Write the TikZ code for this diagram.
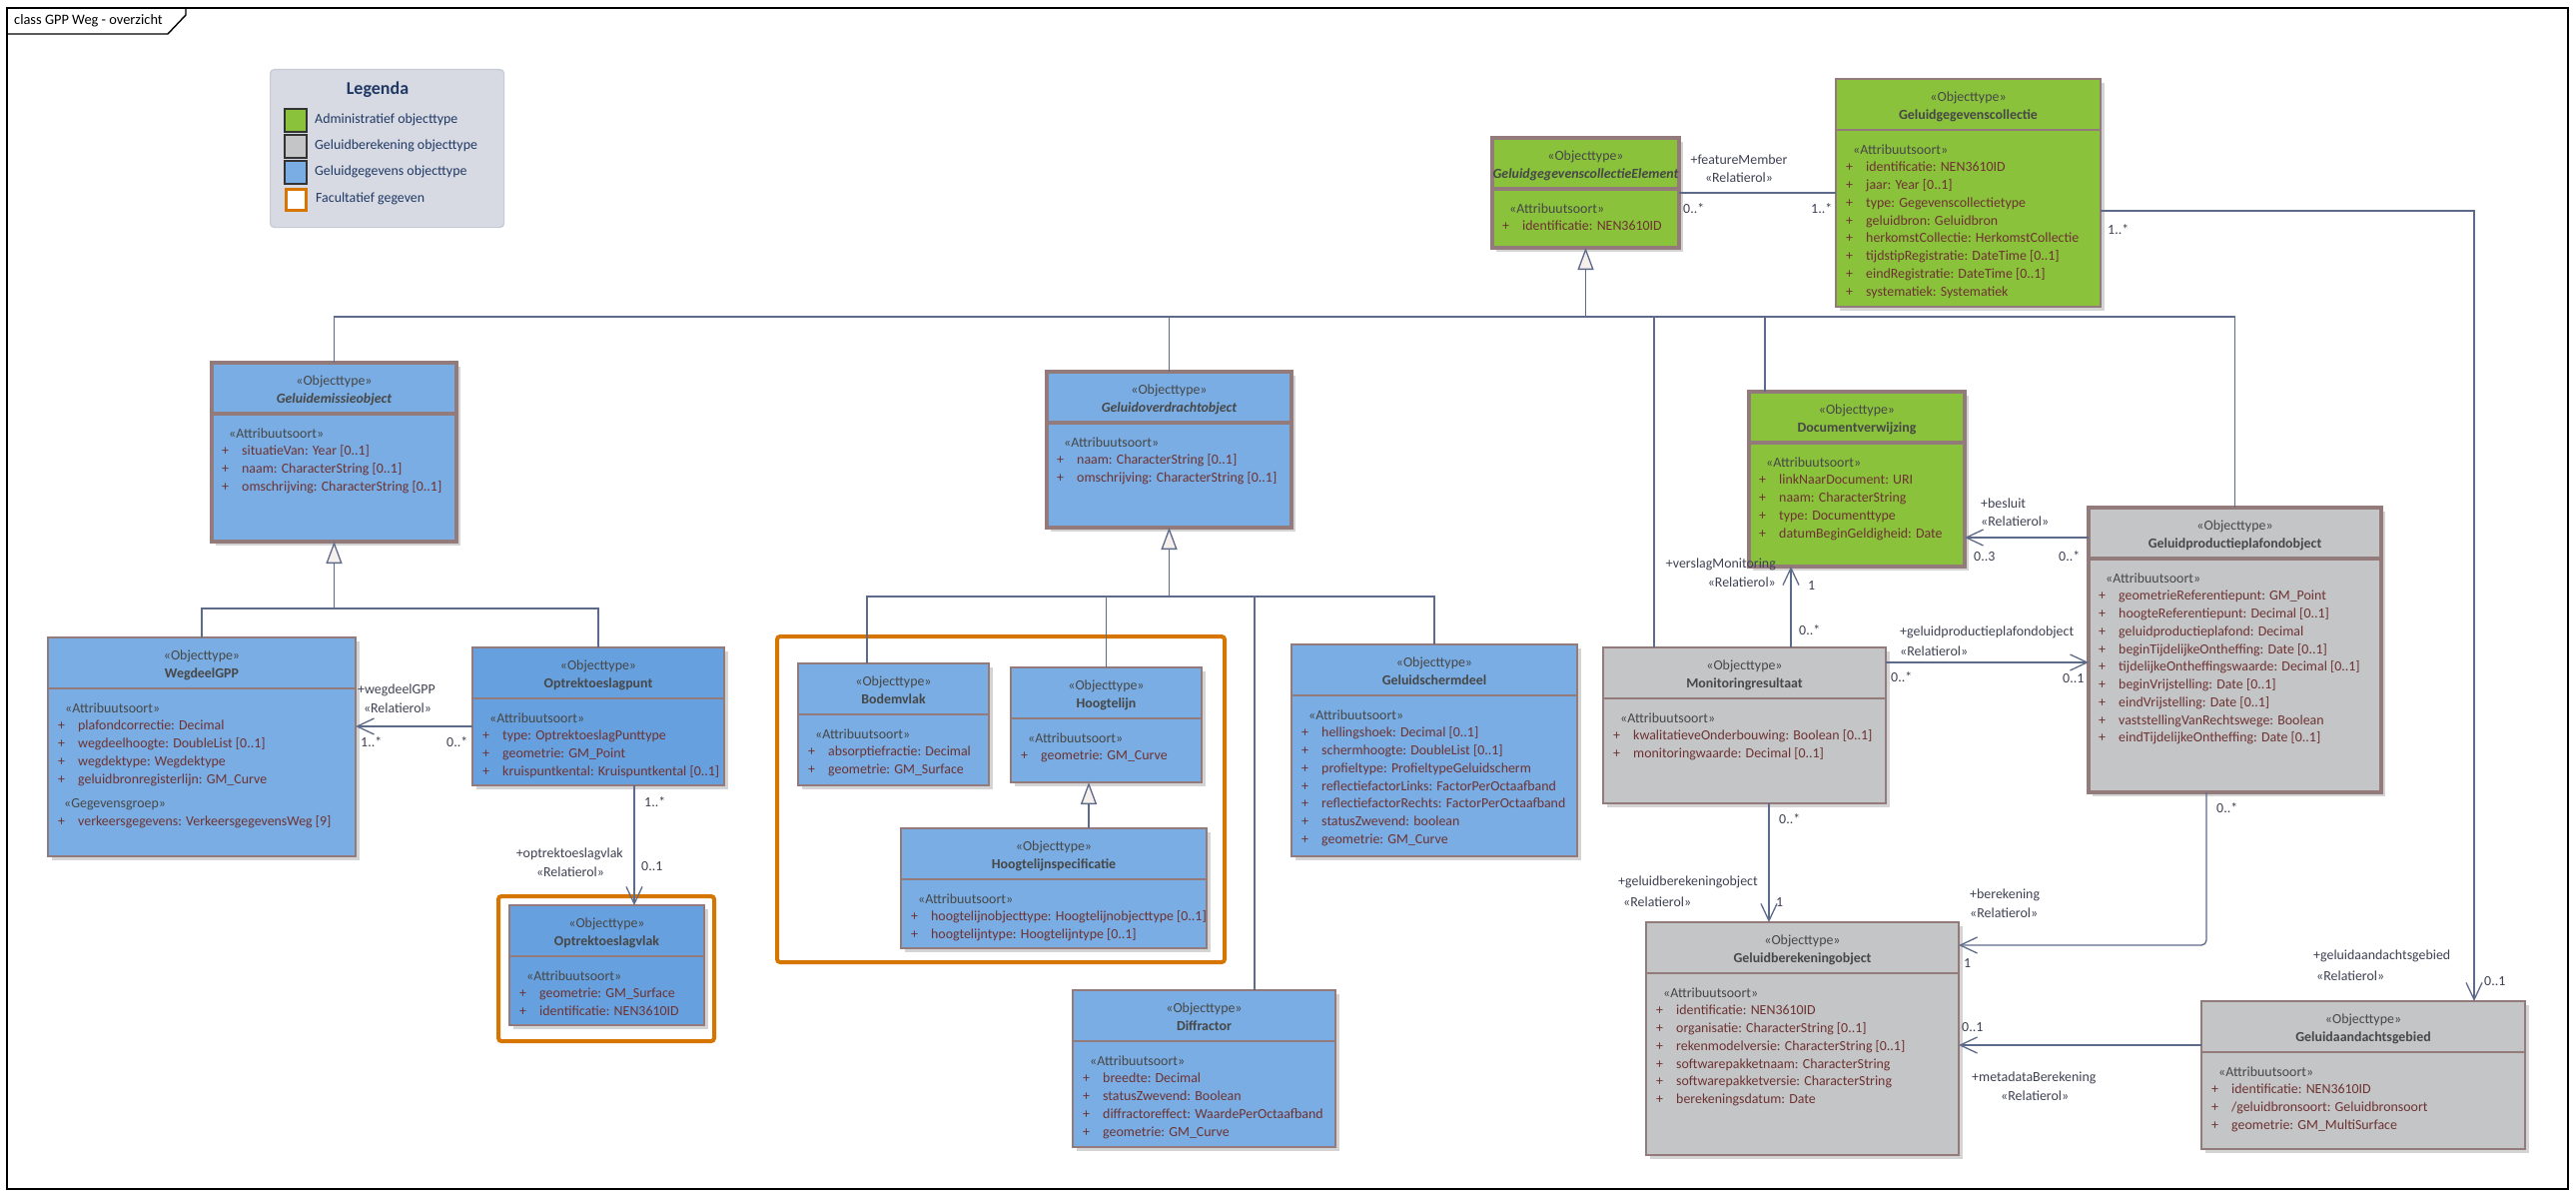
\documentclass[tikz,border=0pt]{standalone}
\usepackage{fontspec}
\setmainfont{Carlito}
\usetikzlibrary{arrows.meta,calc}
\definecolor{green1}{HTML}{8AC23C}
\definecolor{gray1}{HTML}{C4C5C7}
\definecolor{blue1}{HTML}{79ADE3}
\definecolor{blue2}{HTML}{66A0DE}
\definecolor{bordC}{HTML}{937B7B}
\definecolor{lineC}{HTML}{5E6A8A}
\definecolor{triF}{HTML}{F6EFEC}
\definecolor{shadowC}{HTML}{D4D4D4}
\definecolor{stC}{HTML}{474747}
\definecolor{attrC}{HTML}{6E3232}
\definecolor{labC}{HTML}{3F4152}
\definecolor{orangeC}{HTML}{D67500}
\definecolor{legBg}{HTML}{D7DAE2}
\definecolor{legBd}{HTML}{C5CAD6}
\definecolor{navyC}{HTML}{1F3864}
\newcommand\umlfont{\fontsize{13.9}{17.75}\selectfont}
\newcommand\umlbox[8]{%
  \fill[shadowC] ({#2+4},{#3+4}) rectangle ++(#4,#5);
  \node[cls,#6,minimum width=#4pt,minimum height=#5pt,anchor=north west] (#1) at (#2,#3) {};
  \draw[cls,#6,fill=none] (#2,{#3+51}) -- ++(#4,0);
  \node[stereo,anchor=base] (#1-st) at ({#2+#4/2},{#3+22}) {«Objecttype»};
  \node[cname,anchor=base] (#1-nm) at ({#2+#4/2},{#3+40}) {#7};
  \node[astereo,anchor=base west] (#1-as) at ({#2+17},{#3+75}) {«Attribuutsoort»};
  \foreach \t [count=\i] in {#8} {
    \node[attr,anchor=base west] (#1-a\i) at ({#2+10},{#3+75+17.75*\i}) {\makebox[20pt][l]{+}\t};
  }%
}
\begin{document}
\begin{tikzpicture}[x=1pt,y=-1pt,
  cls/.style={draw=bordC,line width=1.5pt,inner sep=0pt,outer sep=0pt},
  heavy/.style={line width=3.2pt},
  stereo/.style={font=\umlfont,text=stC,inner sep=0pt},
  cname/.style={font=\umlfont\bfseries,text=stC,inner sep=0pt},
  astereo/.style={font=\umlfont,text=stC,inner sep=0pt},
  attr/.style={font=\umlfont,text=attrC,inner sep=0pt},
  lbl/.style={font=\umlfont,text=labC,inner sep=0pt},
  conn/.style={draw=lineC,line width=1.3pt},
  gen/.style={conn,-{Triangle[length=22pt,width=16pt,fill=triF]}},
  assoc/.style={conn,-{Straight Barb[length=17pt,width=16pt]}},
  obox/.style={draw=orangeC,line width=4pt,rounded corners=3pt,inner sep=0pt,outer sep=0pt},
  swatch/.style={draw=black!80,line width=1.5pt,minimum width=22pt,minimum height=23pt,inner sep=0pt},
  legtxt/.style={font=\umlfont,text=navyC,inner sep=0pt,anchor=west}
]
\useasboundingbox (0,0) rectangle (2579,1199);
\fill[white] (0,0) rectangle (2579,1199);
% frame
\draw[black,line width=1.4pt] (7,8) rectangle (2571,1190);
\draw[black,line width=1.4pt] (7,34) -- (168,34) -- (186,15) -- (186,8);
\node[font=\fontsize{14.4}{17}\selectfont,anchor=west,inner sep=0pt] (title) at (14,21) {class GPP Weg - overzicht};
% legend
\node[draw=legBd,fill=legBg,line width=1.2pt,rounded corners=4pt,minimum width=234pt,minimum height=158pt,anchor=north west,inner sep=0pt] (legend) at (270,69) {};
\node[font=\fontsize{18}{20}\selectfont\bfseries,text=navyC,inner sep=0pt] (legt) at (378,90) {Legenda};
\node[swatch,fill=green1] (sw1) at (296,120.5) {};
\node[swatch,fill=gray1] (sw2) at (296,146.5) {};
\node[swatch,fill=blue1] (sw3) at (296,172.5) {};
\node[swatch,draw=orangeC,line width=3pt,fill=white,minimum width=20pt,minimum height=21pt] (sw4) at (296,200) {};
\node[legtxt] (lg1) at (315,120) {Administratief objecttype};
\node[legtxt] (lg2) at (315,146) {Geluidberekening objecttype};
\node[legtxt] (lg3) at (315,172) {Geluidgegevens objecttype};
\node[legtxt] (lg4) at (316,199) {Facultatief gegeven};
% optional-data frames
\node[obox,minimum width=448pt,minimum height=326pt,anchor=north west] (fac1) at (778,637) {};
\node[obox,minimum width=216pt,minimum height=145pt,anchor=north west] (fac2) at (499,897) {};
% classes
\umlbox{gce}{1494}{138}{187}{110}{fill=green1,heavy}{\itshape GeluidgegevenscollectieElement}{identificatie: NEN3610ID}
\umlbox{ggc}{1838}{79}{265}{228}{fill=green1}{Geluidgegevenscollectie}{identificatie: NEN3610ID, jaar: Year [0..1], type: Gegevenscollectietype, geluidbron: Geluidbron, herkomstCollectie: HerkomstCollectie, tijdstipRegistratie: DateTime [0..1], eindRegistratie: DateTime [0..1], systematiek: Systematiek}
\umlbox{geo}{212}{363}{245}{179}{fill=blue1,heavy}{\itshape Geluidemissieobject}{situatieVan: Year [0..1], naam: CharacterString [0..1], omschrijving: CharacterString [0..1]}
\umlbox{goo}{1048}{372}{245}{156}{fill=blue1,heavy}{\itshape Geluidoverdrachtobject}{naam: CharacterString [0..1], omschrijving: CharacterString [0..1]}
\umlbox{weg}{48}{638}{308}{219}{fill=blue1}{WegdeelGPP}{plafondcorrectie: Decimal, wegdeelhoogte: DoubleList [0..1], wegdektype: Wegdektype, geluidbronregisterlijn: GM\_Curve}
\node[astereo,anchor=base west] (weg-gg) at (64,808) {«Gegevensgroep»};
\node[attr,anchor=base west] (weg-vg) at (58,826) {\makebox[20pt][l]{+}verkeersgegevens: VerkeersgegevensWeg [9]};
\umlbox{otp}{473}{648}{252}{138}{fill=blue2}{Optrektoeslagpunt}{type: OptrektoeslagPunttype, geometrie: GM\_Point, kruispuntkental: Kruispuntkental [0..1]}
\umlbox{otv}{510}{906}{195}{120}{fill=blue2}{Optrektoeslagvlak}{geometrie: GM\_Surface, identificatie: NEN3610ID}
\umlbox{bv}{799}{664}{191}{122}{fill=blue1}{Bodemvlak}{absorptiefractie: Decimal, geometrie: GM\_Surface}
\umlbox{hl}{1012}{668}{191}{115}{fill=blue1}{Hoogtelijn}{geometrie: GM\_Curve}
\umlbox{hls}{902}{829}{306}{120}{fill=blue1}{Hoogtelijnspecificatie}{hoogtelijnobjecttype: Hoogtelijnobjecttype [0..1], hoogtelijntype: Hoogtelijntype [0..1]}
\umlbox{df}{1074}{991}{263}{157}{fill=blue1}{Diffractor}{breedte: Decimal, statusZwevend: Boolean, diffractoreffect: WaardePerOctaafband, geometrie: GM\_Curve}
\umlbox{gsd}{1293}{645}{286}{212}{fill=blue1}{Geluidschermdeel}{hellingshoek: Decimal [0..1], schermhoogte: DoubleList [0..1], profieltype: ProfieltypeGeluidscherm, reflectiefactorLinks: FactorPerOctaafband, reflectiefactorRechts: FactorPerOctaafband, statusZwevend: boolean, geometrie: GM\_Curve}
\umlbox{mr}{1605}{648}{283}{156}{fill=gray1}{Monitoringresultaat}{kwalitatieveOnderbouwing: Boolean [0..1], monitoringwaarde: Decimal [0..1]}
\umlbox{dv}{1751}{392}{216}{175}{fill=green1,heavy}{Documentverwijzing}{linkNaarDocument: URI, naam: CharacterString, type: Documenttype, datumBeginGeldigheid: Date}
\umlbox{gppo}{2091}{508}{293}{285}{fill=gray1,heavy}{Geluidproductieplafondobject}{geometrieReferentiepunt: GM\_Point, hoogteReferentiepunt: Decimal [0..1], geluidproductieplafond: Decimal, beginTijdelijkeOntheffing: Date [0..1], tijdelijkeOntheffingswaarde: Decimal [0..1], beginVrijstelling: Date [0..1], eindVrijstelling: Date [0..1], vaststellingVanRechtswege: Boolean, eindTijdelijkeOntheffing: Date [0..1]}
\umlbox{gbo}{1648}{923}{313}{233}{fill=gray1}{Geluidberekeningobject}{identificatie: NEN3610ID, organisatie: CharacterString [0..1], rekenmodelversie: CharacterString [0..1], softwarepakketnaam: CharacterString, softwarepakketversie: CharacterString, berekeningsdatum: Date}
\umlbox{gag}{2204}{1002}{324}{148}{fill=gray1}{Geluidaandachtsgebied}{identificatie: NEN3610ID, {/geluidbronsoort: Geluidbronsoort}, geometrie: GM\_MultiSurface}
% generalization trees
\coordinate (b1) at (1587.5,317);
\draw[conn] (geo.north) |- (b1);
\draw[conn] (goo.north) |- (b1);
\draw[conn] ([xshift=51pt]mr.north west) |- (b1);
\draw[conn] ([xshift=16pt]dv.north west) |- (b1);
\draw[conn] (gppo.north) |- (b1);
\draw[gen] (b1) -- (gce.south);
\coordinate (b2) at (334.5,609);
\draw[conn] (weg.north) |- (b2);
\draw[conn] (otp.north) |- (b2);
\draw[gen] (b2) -- (geo.south);
\coordinate (b3) at (1170.5,597);
\draw[conn] ([xshift=69pt]bv.north west) |- (b3);
\draw[conn] (hl.north) |- (b3);
\draw[conn] ([xshift=182pt]df.north west) |- (b3);
\draw[conn] (gsd.north) |- (b3);
\draw[gen] (b3) -- (goo.south);
\draw[gen] ([xshift=188pt]hls.north west) -- ([xshift=78pt]hl.south west);
% associations
\draw[conn] (gce.east) -- (ggc.west);
\coordinate (p1) at ([yshift=-10pt]otp.west);
\draw[assoc] (p1) -- (p1 -| weg.east);
\coordinate (p2) at ([xshift=162pt]otp.south west);
\draw[assoc] (p2) -- (p2 |- otv.north);
\coordinate (p3) at ([yshift=-30pt]gppo.north west);
\draw[assoc] (p3) -- (p3 -| dv.east);
\coordinate (p4) at ([xshift=188pt]mr.north west);
\draw[assoc] (p4) -- (p4 |- dv.south);
\coordinate (p5) at ([yshift=-15pt]mr.north east);
\draw[assoc] (p5) -- (p5 -| gppo.west);
\coordinate (p6) at ([xshift=166pt]mr.south west);
\draw[assoc] (p6) -- (p6 |- gbo.north);
\coordinate (p7) at ([xshift=118pt]gppo.south west);
\draw[assoc,rounded corners=5pt] (p7) |- ([yshift=-23pt]gbo.north east);
\coordinate (p8) at ([yshift=-132pt]ggc.north east);
\draw[assoc] (p8) -| ([xshift=273pt]gag.north west);
\coordinate (p9) at ([yshift=-44pt]gag.north west);
\draw[assoc] (p9) -- (p9 -| gbo.east);
% labels
\node[lbl] (l1) at (1741,160) {+featureMember};
\node[lbl] (l2) at (1741,178) {«Relatierol»};
\node[lbl,anchor=west] (l3) at (1685,209) {0..*};
\node[lbl,anchor=west] (l4) at (1813,209) {1..*};
\node[lbl,anchor=west] (l5) at (358,691) {+wegdeelGPP};
\node[lbl] (l6) at (398,709) {«Relatierol»};
\node[lbl,anchor=west] (l7) at (361,743) {1..*};
\node[lbl,anchor=west] (l8) at (447,743) {0..*};
\node[lbl,anchor=west] (l9) at (645,803) {1..*};
\node[lbl,anchor=east] (l10) at (624,855) {+optrektoeslagvlak};
\node[lbl] (l11) at (571,873) {«Relatierol»};
\node[lbl,anchor=west] (l12) at (642,867) {0..1};
\node[lbl,anchor=west] (l13) at (1983,504) {+besluit};
\node[lbl,anchor=west] (l14) at (1983,522) {«Relatierol»};
\node[lbl,anchor=west] (l15) at (1976,557) {0..3};
\node[lbl,anchor=west] (l16) at (2061,557) {0..*};
\node[lbl,anchor=east] (l17) at (1778,565) {+verslagMonitoring};
\node[lbl,anchor=east] (l18) at (1778,583) {«Relatierol»};
\node[lbl,anchor=west] (l19) at (1810,586) {1};
\node[lbl,anchor=west] (l20) at (1801,631) {0..*};
\node[lbl,anchor=west] (l21) at (1902,633) {+geluidproductieplafondobject};
\node[lbl,anchor=west] (l22) at (1902,652) {«Relatierol»};
\node[lbl,anchor=west] (l23) at (1893,678) {0..*};
\node[lbl,anchor=west] (l24) at (2065,679) {0..1};
\node[lbl,anchor=west] (l25) at (1781,820) {0..*};
\node[lbl,anchor=west] (l26) at (1620,883) {+geluidberekeningobject};
\node[lbl,anchor=west] (l27) at (1625,903) {«Relatierol»};
\node[lbl,anchor=west] (l28) at (1778,903) {1};
\node[lbl,anchor=west] (l29) at (1972,896) {+berekening};
\node[lbl,anchor=west] (l30) at (1972,914) {«Relatierol»};
\node[lbl,anchor=west] (l31) at (1966,964) {1};
\node[lbl,anchor=west] (l32) at (2219,809) {0..*};
\node[lbl,anchor=west] (l33) at (2110,230) {1..*};
\node[lbl,anchor=west] (l34) at (2316,957) {+geluidaandachtsgebied};
\node[lbl,anchor=west] (l35) at (2319,977) {«Relatierol»};
\node[lbl,anchor=west] (l36) at (2487,982) {0..1};
\node[lbl,anchor=west] (l37) at (1964,1028) {0..1};
\node[lbl,anchor=west] (l38) at (1974,1079) {+metadataBerekening};
\node[lbl,anchor=west] (l39) at (2003,1097) {«Relatierol»};
\end{tikzpicture}
\end{document}
